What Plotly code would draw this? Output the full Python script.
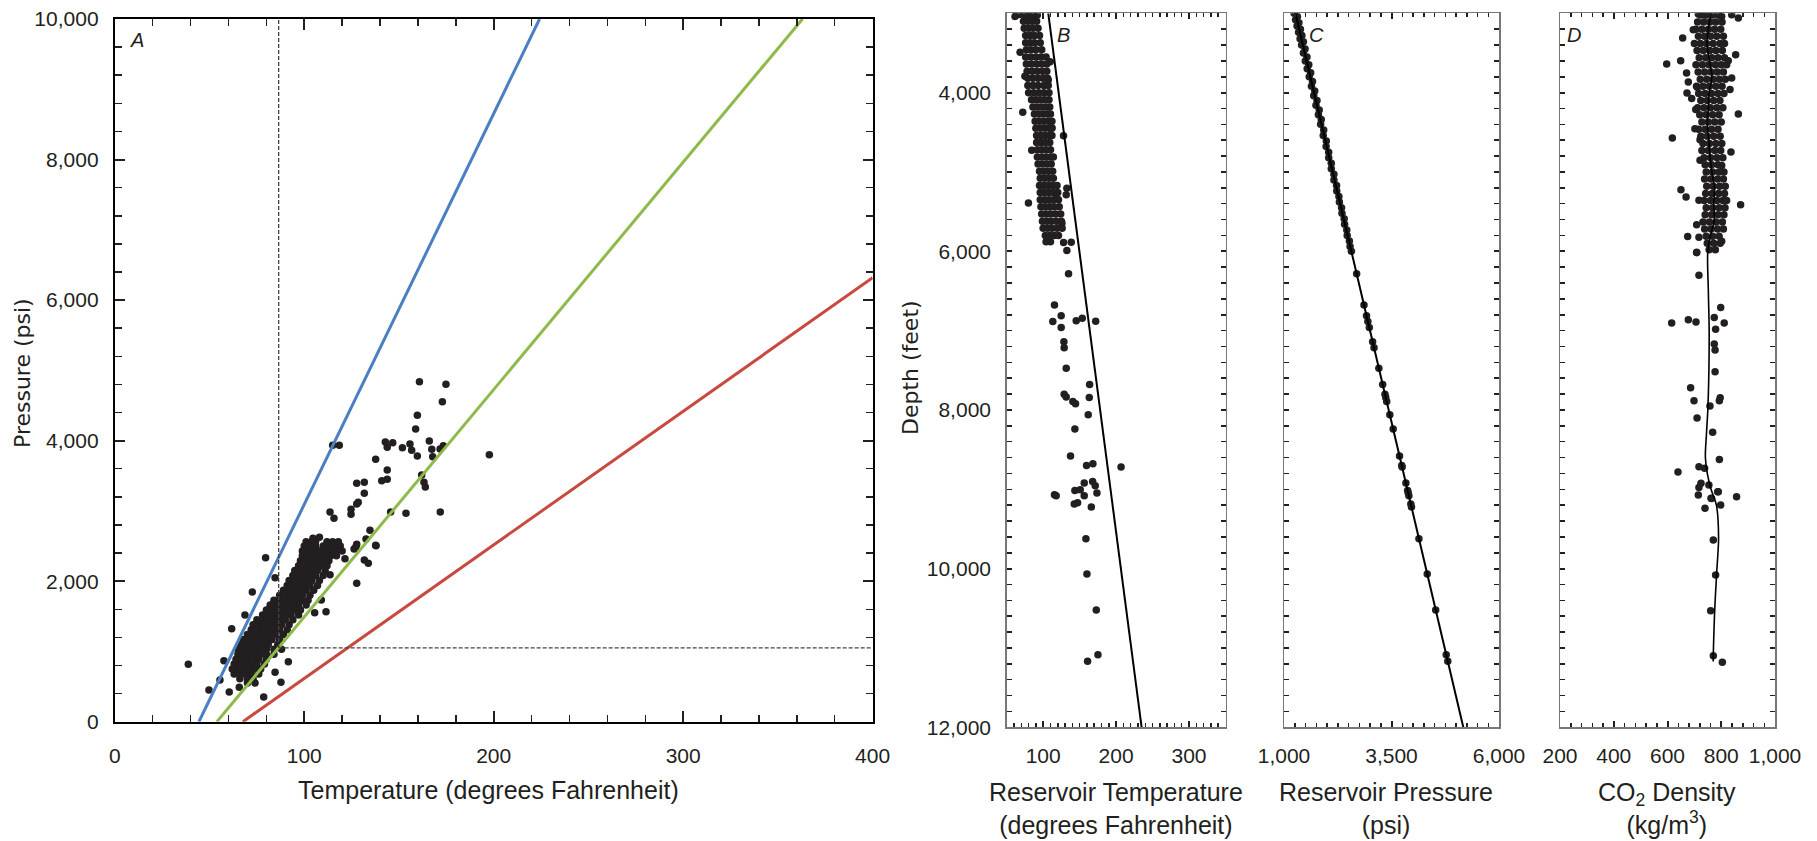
import plotly.graph_objects as go

W, H = 1817, 841
INK = "#231f20"
FONT = "Liberation Sans, Arial, sans-serif"
NARROW = "Liberation Sans Narrow, Arial Narrow, Liberation Sans, sans-serif"
YFONT = "DejaVu Sans, Verdana, sans-serif"

# ---------------- Panel A: pressure vs temperature ----------------
a_out_temp = [160.8, 174.8, 172.9, 159.7, 158.8, 115.0, 118.5, 142.8, 146.7, 143.8, 151.8, 155.8,
              156.7, 166.0, 167.3, 171.7, 173.4, 159.7, 167.8, 197.7, 137.7, 143.8, 127.7, 131.7,
              140.9, 143.8, 162.0, 163.2, 163.9, 131.7, 128.5, 127.7, 124.7, 124.7, 113.6, 115.7,
              145.6, 153.7, 171.8, 134.7, 132.6, 137.7, 126.3, 127.7, 121.5, 131.7, 133.8, 127.7,
              113.6, 111.5, 105.5, 109.0, 79.6, 84.6, 72.6, 68.7, 61.7, 38.8, 49.7, 60.4, 65.7,
              78.6, 87.7, 91.6, 84.6, 55.5, 57.6, 127.3, 137.9, 104.6, 108.0]
a_out_pres = [4839, 4801, 4554, 4360, 4165, 3933, 3933, 3980, 3970, 3905, 3899, 3952,
              3862, 3995, 3876, 3880, 3928, 3781, 3771, 3800, 3734, 3582, 3393, 3407,
              3430, 3450, 3511, 3407, 3340, 3250, 3122, 3098, 3022, 2951, 2984, 2894,
              2984, 2965, 2984, 2723, 2600, 2510, 2458, 2524, 2320, 2301, 2254, 1969,
              2092, 1565, 1551, 1732, 2334, 2049, 1846, 1518, 1323, 817, 451, 423, 490,
              352, 561, 854, 703, 593, 868, 2490, 2505, 2610, 2625]

a_rows_pres = [2560, 2500, 2430, 2360, 2290, 2220, 2150, 2080, 2010, 1940, 1870, 1800, 1730,
               1660, 1590, 1520, 1450, 1380, 1310, 1240, 1170, 1100, 1030, 960, 890, 820,
               750, 680, 610, 550]
a_rows_temp = [
    [101, 104, 106, 112, 115, 118],
    [100, 103, 106, 110, 113, 116, 119],
    [99, 102, 105, 108, 111, 114, 117, 120],
    [99, 102, 105, 108, 111, 114, 117],
    [98, 101, 104, 107, 110, 113],
    [97, 100, 103, 106, 109, 112],
    [95, 98, 101, 104, 107, 111],
    [94, 97, 100, 103, 106, 110],
    [92, 95, 98, 101, 104, 108],
    [91, 94, 97, 100, 103, 107],
    [89, 92, 95, 98, 101, 105],
    [87, 90, 93, 96, 99, 103],
    [84, 87, 90, 93, 96, 99, 102],
    [82, 85, 88, 91, 94, 97, 101],
    [80, 83, 86, 89, 92, 95, 98],
    [78, 81, 84, 87, 90, 93, 97],
    [75, 78, 81, 84, 87, 90, 94],
    [73, 76, 79, 82, 85, 88, 92],
    [72, 75, 78, 81, 84, 87, 91],
    [70, 73, 76, 79, 82, 85, 89],
    [68, 71, 74, 77, 80, 83, 87],
    [66, 69, 72, 75, 78, 81, 86],
    [65, 68, 71, 74, 77, 80, 84, 88],
    [65, 68, 71, 74, 77, 80, 84],
    [64, 67, 70, 73, 76, 80],
    [63, 66, 69, 72, 75, 79],
    [62, 65, 68, 71, 74, 77],
    [63, 66, 69, 72, 76],
    [66, 70, 73],
    [70, 74],
]

blue_temp, blue_pres = [44.4, 224.2], [0, 10000]
green_temp, green_pres = [53.9, 363.0], [0, 10000]
red_temp, red_pres = [67.6, 400.0], [0, 6318]
crit_temp, crit_pres = 86.5, 1050

# ---------------- Panel B: temperature vs depth ----------------
b_rows_depth = [3020, 3100, 3190, 3280, 3370, 3460, 3550, 3640, 3730, 3820, 3910, 4000, 4090,
                4180, 4270, 4360, 4450, 4540, 4630, 4720, 4810, 4900, 4990, 5080, 5170, 5260,
                5350, 5440, 5530, 5620, 5710, 5800, 5880]
b_rows_temp = [
    [74, 80, 86, 92], [73, 79, 85, 91], [74, 80, 86, 93], [76, 82, 88, 95],
    [76, 82, 88, 96], [77, 83, 90, 98], [76, 83, 90, 97, 104], [77, 84, 91, 98, 105],
    [78, 85, 92, 99, 105], [79, 86, 93, 100, 106], [79, 86, 93, 101, 107], [80, 87, 94, 101, 108],
    [84, 90, 96, 102, 108], [86, 92, 98, 104, 109], [88, 94, 100, 106, 110], [89, 95, 101, 107, 112],
    [90, 96, 102, 108, 112], [91, 97, 103, 109, 112], [91, 97, 103, 109], [92, 98, 104, 110],
    [92, 98, 104, 110, 114], [93, 99, 105, 111], [95, 101, 107, 113], [96, 102, 108, 114],
    [95, 101, 107, 113, 119], [96, 102, 108, 114, 120], [96, 102, 108, 114, 121],
    [97, 103, 109, 115, 122], [98, 104, 110, 117, 124], [99, 105, 111, 118, 125],
    [100, 106, 112, 119, 126], [103, 109, 115, 121], [104, 110],
]
b_out_temp = [61.4, 67.0, 68.3, 75.0, 72.0, 84.3, 79.8, 127.9, 132.5, 131.6, 138.5, 128.0, 132.5,
              109.6, 107.0, 111.9, 118.8, 125.7, 134.8, 115.5, 124.7, 113.2, 124.7, 145.3, 153.6,
              172.0, 128.4, 128.8, 131.6, 163.7, 128.8, 131.6, 163.2, 140.7, 144.4, 161.8, 143.5,
              137.5, 159.5, 168.2, 206.8, 156.3, 167.8, 171.4, 143.5, 150.8, 173.7, 115.5, 117.8,
              156.3, 142.6, 147.2, 166.0, 158.6, 160.0, 172.8, 175.1, 160.9]
b_out_depth = [3040, 3015, 3492, 3794, 4248, 4727, 5392, 4543, 5204, 5288, 5885, 5889, 5990,
               3610, 3842, 4443, 5330, 5645, 6282, 6677, 6811, 6886, 6962, 6875, 6845,
               6883, 7140, 7216, 7473, 7679, 7801, 7835, 7843, 7894, 7923, 8060, 8241,
               8581, 8699, 8678, 8720, 8922, 8901, 8955, 9015, 9006, 9048, 9070, 9082,
               9082, 9185, 9168, 9223, 9622, 10067, 10521, 11084, 11168]
b_line_temp, b_line_depth = [107, 235], [3000, 12000]

# ---------------- Panel C: pressure vs depth ----------------
c_depth = [3000, 3040, 3080, 3120, 3160, 3200, 3240, 3280, 3320, 3360, 3400, 3450, 3500, 3550,
           3600, 3650, 3700, 3750, 3800, 3860, 3920, 3980, 4040, 4100, 4160, 4220, 4280, 4340,
           4400, 4470, 4540, 4610, 4680, 4750, 4820, 4890, 4960, 5030, 5100, 5170, 5240, 5310,
           5380, 5450, 5520, 5590, 5660, 5730, 5800, 5870, 5940, 6000,
           6282, 6677, 6811, 6886, 6962, 7140, 7216, 7473, 7679, 7801, 7843, 7894, 8060, 8241,
           8581, 8699, 8720, 8922, 9015, 9048, 9082, 9185, 9223, 9622, 10067, 10521, 11084, 11168]
c_pres = [1235, 1312, 1270, 1347, 1304, 1382, 1339, 1416, 1374, 1451, 1409, 1490, 1452, 1534,
          1495, 1577, 1539, 1620, 1587, 1663, 1639, 1715, 1691, 1767, 1743, 1819, 1800, 1866,
          1852, 1923, 1913, 1984, 1979, 2039, 2040, 2100, 2100, 2161, 2161, 2222, 2227, 2277,
          2288, 2338, 2348, 2399, 2409, 2460, 2470, 2520, 2536, 2567,
          2689, 2860, 2919, 2951, 2984, 3061, 3094, 3206, 3295, 3348, 3366, 3388, 3461, 3539,
          3687, 3738, 3748, 3835, 3875, 3889, 3904, 3949, 3965, 4138, 4331, 4528, 4773, 4809]
c_line_pres, c_line_depth = [1265, 5170], [3000, 12000]

# ---------------- Panel D: CO2 density vs depth ----------------
d_rows_depth = [3020, 3110, 3200, 3290, 3380, 3470, 3560, 3650, 3740, 3830, 3920, 4010, 4100,
                4190, 4280, 4370, 4460, 4550, 4640, 4730, 4820, 4910, 5000, 5090, 5180, 5270,
                5360, 5450, 5540, 5630, 5720, 5810, 5900, 5980]
d_rows_dens = [
    [722, 745, 768, 790], [712, 735, 758, 780, 803], [705, 728, 752, 775, 798],
    [715, 738, 760, 783, 808], [700, 722, 745, 770, 795, 812], [710, 733, 757, 780, 804],
    [718, 742, 765, 788, 812], [706, 730, 754, 778, 800, 820], [714, 738, 762, 785, 808],
    [722, 746, 770, 793, 815], [708, 732, 756, 780, 803], [716, 740, 764, 788, 810],
    [724, 748, 772, 795], [712, 736, 760, 784, 806], [720, 744, 768, 792],
    [728, 752, 776, 800], [716, 740, 764, 788], [724, 748, 772, 796], [732, 756, 780, 802],
    [728, 752, 776, 798], [736, 760, 784, 806], [740, 764, 788], [744, 768, 792, 810],
    [738, 762, 786, 808], [746, 770, 794, 815], [742, 766, 790, 812],
    [736, 760, 784, 806, 820], [744, 768, 792, 814], [740, 764, 788, 810],
    [732, 756, 780, 804], [738, 762, 786, 808], [744, 768, 792], [748, 772, 796], [755, 778],
]
d_out_dens = [714.7, 739.5, 801.6, 838.8, 863.6, 696.0, 656.4, 853.6, 597.0, 649.0, 826.0, 671.0,
              838.8, 677.5, 832.6, 711.0, 672.6, 690.0, 705.0, 863.6, 702.0, 618.0, 721.0, 836.0,
              721.0, 801.6, 650.0, 669.0, 717.0, 872.0, 708.5, 675.0, 717.0, 801.6, 708.5,
              708.5, 717.0, 798.0, 774.0, 811.0, 677.5, 706.0, 615.5, 779.0, 774.0, 777.0, 777.0,
              686.0, 698.6, 796.0, 793.0, 758.0, 710.0, 768.0, 793.0, 717.0, 738.0, 639.0, 724.6,
              717.0, 754.0, 789.0, 714.7, 764.0, 857.0, 762.0, 786.7, 797.8, 739.5, 770.5, 779.0,
              760.6, 770.5, 804.0]
d_out_depth = [3009, 3017, 3038, 3017, 3059, 3206, 3311, 3521, 3639, 3597, 3597, 3753,
               3816, 3866, 3962, 3933, 4004, 4075, 4214, 4269, 4454, 4572, 4593, 4748,
               4853, 4920, 5223, 5315, 5357, 5412, 5664, 5815, 5824, 5874, 6013,
               6018, 6303, 6707, 6833, 6904, 6862, 6892, 6904, 6984, 7169, 7245, 7518,
               7719, 7883, 7845, 7883, 7950, 8102, 8282, 8623, 8715, 8736, 8782, 8925,
               8976, 8946, 9030, 9072, 9115, 9093, 9114, 9030, 9198, 9240, 9639, 10080,
               10530, 11097, 11181]
d_line_dens = [762, 752, 747, 756, 765, 755, 752, 748, 754, 758, 765, 775, 772, 774, 760, 750,
               752, 755, 754, 750, 745, 741, 748, 762, 782, 790, 784, 776, 771, 770]
d_line_depth = [3000, 3200, 3400, 3600, 3800, 4000, 4200, 4400, 4600, 4800, 5000, 5200, 5400,
                5600, 5800, 6000, 6500, 7000, 7500, 8000, 8300, 8600, 8800, 9000, 9200, 9600,
                10000, 10500, 11000, 11170]


def flatten(rows_key, rows_vals):
    xs, ys = [], []
    for k, vals in zip(rows_key, rows_vals):
        for v in vals:
            xs.append(v)
            ys.append(k)
    return xs, ys


a_cl_temp, a_cl_pres = flatten(a_rows_pres, a_rows_temp)
b_cl_temp, b_cl_depth = flatten(b_rows_depth, b_rows_temp)
d_cl_dens, d_cl_depth = flatten(d_rows_depth, d_rows_dens)

MK = dict(size=7.5, color=INK)
DASH = dict(color="#444444", width=1.3, dash="4px,2px")
fig = go.Figure()

# Panel A
fig.add_trace(go.Scatter(x=a_cl_temp + a_out_temp, y=a_cl_pres + a_out_pres, mode="markers",
                         marker=MK, xaxis="x", yaxis="y"))
fig.add_trace(go.Scatter(x=blue_temp, y=blue_pres, mode="lines",
                         line=dict(color="#4a7fc1", width=3), xaxis="x", yaxis="y"))
fig.add_trace(go.Scatter(x=green_temp, y=green_pres, mode="lines",
                         line=dict(color="#8dba4a", width=3), xaxis="x", yaxis="y"))
fig.add_trace(go.Scatter(x=red_temp, y=red_pres, mode="lines",
                         line=dict(color="#c8493f", width=3), xaxis="x", yaxis="y"))
fig.add_trace(go.Scatter(x=[crit_temp, crit_temp], y=[crit_pres, 10000], mode="lines",
                         line=DASH, xaxis="x", yaxis="y"))
fig.add_trace(go.Scatter(x=[crit_temp, 400], y=[crit_pres, crit_pres], mode="lines",
                         line=DASH, xaxis="x", yaxis="y"))

# Panel B
fig.add_trace(go.Scatter(x=b_cl_temp + b_out_temp, y=b_cl_depth + b_out_depth, mode="markers",
                         marker=MK, xaxis="x2", yaxis="y2"))
fig.add_trace(go.Scatter(x=b_line_temp, y=b_line_depth, mode="lines",
                         line=dict(color="black", width=2), xaxis="x2", yaxis="y2"))
# Panel C
fig.add_trace(go.Scatter(x=c_pres, y=c_depth, mode="markers", marker=MK, xaxis="x3", yaxis="y3"))
fig.add_trace(go.Scatter(x=c_line_pres, y=c_line_depth, mode="lines",
                         line=dict(color="black", width=2), xaxis="x3", yaxis="y3"))
# Panel D
fig.add_trace(go.Scatter(x=d_cl_dens + d_out_dens, y=d_cl_depth + d_out_depth, mode="markers",
                         marker=MK, xaxis="x4", yaxis="y4"))
fig.add_trace(go.Scatter(x=d_line_dens, y=d_line_depth, mode="lines",
                         line=dict(color="black", width=1.6, shape="spline"), xaxis="x4", yaxis="y4"))


def dom_x(a, b):
    return [a / W, b / W]


def dom_y(top, bottom):
    return [1 - bottom / H, 1 - top / H]


TF = dict(family=NARROW, size=21, color=INK)


def axis(domain, rng, tickvals, ticklen=6, minor_dtick=None, minor_len=4,
         linecolor="black", linewidth=1.5, standoff=10, showlabels=True, anchor=None):
    d = dict(domain=domain, range=rng, tickvals=tickvals, ticks="inside", ticklen=ticklen,
             tickwidth=2, tickcolor=INK, showline=True, linecolor=linecolor, linewidth=linewidth,
             mirror="allticks", showgrid=False, zeroline=False, tickfont=TF, tickformat=",",
             showticklabels=showlabels, ticklabelstandoff=standoff, fixedrange=True,
             automargin=False)
    if minor_dtick is not None:
        d["minor"] = dict(dtick=minor_dtick, ticks="inside", ticklen=minor_len, tickwidth=1.5,
                          tickcolor=INK, showgrid=False)
    if anchor:
        d["anchor"] = anchor
    return d


A_X = dom_x(114.8, 872.6)
A_Y = dom_y(19.0, 721.7)
B_X = dom_x(1006.7, 1225.5)
C_X = dom_x(1284.0, 1499.0)
D_X = dom_x(1560.0, 1775.0)
BCD_Y = dom_y(13.3, 727.3)
DEPTH_RANGE = [12000, 3000]
DEPTH_TICKS = [4000, 6000, 8000, 10000, 12000]

fig.update_layout(
    width=W, height=H, margin=dict(l=0, r=0, t=0, b=0, pad=0, autoexpand=False),
    paper_bgcolor="white", plot_bgcolor="white", showlegend=False,
    font=dict(family=FONT, color=INK),
    xaxis=axis(A_X, [0, 400], [0, 100, 200, 300, 400], ticklen=11, minor_dtick=20, minor_len=7,
               linewidth=2, standoff=14, anchor="y"),
    yaxis=axis(A_Y, [0, 10000], [0, 2000, 4000, 6000, 8000, 10000], ticklen=10, minor_dtick=400,
               minor_len=7, linewidth=2, standoff=10, anchor="x"),
    xaxis2=axis(B_X, [50, 350], [100, 200, 300], ticklen=6, minor_dtick=10,
                minor_len=4, linecolor="#777777", standoff=9, anchor="y2"),
    yaxis2=axis(BCD_Y, DEPTH_RANGE, DEPTH_TICKS, ticklen=5, minor_dtick=200, minor_len=5,
                linecolor="#777777", standoff=10, anchor="x2"),
    xaxis3=axis(C_X, [1000, 6000], [1000, 3500, 6000], ticklen=6, minor_dtick=250, minor_len=4,
                linecolor="#777777", standoff=9, anchor="y3"),
    yaxis3=axis(BCD_Y, DEPTH_RANGE, DEPTH_TICKS, ticklen=5, minor_dtick=200, minor_len=5,
                linecolor="#777777", showlabels=False, anchor="x3"),
    xaxis4=axis(D_X, [200, 1000], [200, 400, 600, 800, 1000], ticklen=6, minor_dtick=40,
                minor_len=4, linecolor="#777777", standoff=9, anchor="y4"),
    yaxis4=axis(BCD_Y, DEPTH_RANGE, DEPTH_TICKS, ticklen=5, minor_dtick=200, minor_len=5,
                linecolor="#777777", showlabels=False, anchor="x4"),
)

TITLE_F = dict(family=FONT, size=25, color=INK)
YT_F = dict(family=YFONT, size=22, color=INK)
LBL_F = dict(family=FONT, size=20, color=INK)


def ann(text, x, y, font, **kw):
    fig.add_annotation(text=text, x=x / W, y=1 - y / H, xref="paper", yref="paper",
                       showarrow=False, font=font, xanchor=kw.pop("xanchor", "center"),
                       yanchor=kw.pop("yanchor", "middle"), **kw)


ann("Temperature (degrees Fahrenheit)", 488, 790, TITLE_F)
ann("Pressure (psi)", 22, 373, YT_F, textangle=-90)
ann("Depth (feet)", 910, 368, YT_F, textangle=-90)
ann("Reservoir Temperature<br>(degrees Fahrenheit)", 1116, 808, TITLE_F)
ann("Reservoir Pressure<br>(psi)", 1386, 808, TITLE_F)
ann("CO<sub>2</sub> Density<br>(kg/m<sup>3</sup>)", 1667, 808, TITLE_F)
ann("<i>A</i>", 137, 40, LBL_F)
ann("<i>B</i>", 1063, 35, LBL_F)
ann("<i>C</i>", 1316, 35, LBL_F)
ann("<i>D</i>", 1574, 35, LBL_F)

fig.write_html("out.html", config={"displayModeBar": False, "staticPlot": True},
               post_script="document.body.style.margin='0px';document.body.style.overflow='hidden';")
